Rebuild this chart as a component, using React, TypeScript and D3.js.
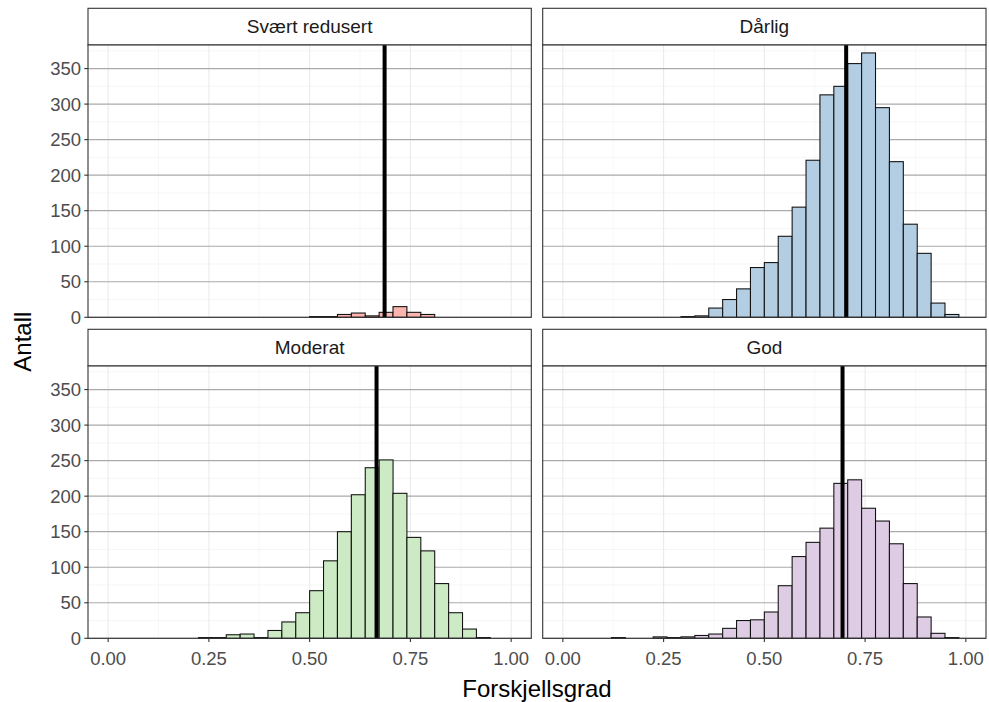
import React from "react";
import * as d3 from "d3";

// bin centres (binwidth = 1/29, ggplot-style 30 bins over 0..1)
const binCenters = [
	0.0, 0.0345, 0.069, 0.1034, 0.1379, 0.1724, 0.2069, 0.2414, 0.2759, 0.3103,
	0.3448, 0.3793, 0.4138, 0.4483, 0.4828, 0.5172, 0.5517, 0.5862, 0.6207, 0.6552,
	0.6897, 0.7241, 0.7586, 0.7931, 0.8276, 0.8621, 0.8966, 0.931, 0.9655, 1.0,
];
const binWidth = 0.0345;

const panelNames = ["Svært redusert", "Dårlig", "Moderat", "God"];
const panelColors = ["#FBB4AE", "#B3CDE3", "#CCEBC5", "#DECBE4"];

const countsSvaert = [0, 0, 0, 0, 0, 0, 0, 0, 0, 0, 0, 0, 0, 0, 0, 1, 1, 4, 6, 2, 7, 15, 7, 4, 0, 0, 0, 0, 0, 0];
const countsDarlig = [0, 0, 0, 0, 0, 0, 0, 0, 0, 1, 2, 13, 25, 40, 70, 77, 114, 155, 221, 313, 325, 357, 372, 295, 219, 131, 90, 20, 4, 0];
const countsModerat = [0, 0, 0, 0, 0, 0, 0, 1, 1, 5, 6, 1, 11, 23, 36, 67, 109, 150, 202, 240, 251, 204, 142, 123, 77, 36, 13, 1, 0, 0];
const countsGod = [0, 0, 0, 0, 1, 0, 0, 2, 1, 2, 4, 6, 14, 25, 26, 37, 74, 115, 135, 155, 218, 223, 183, 165, 133, 77, 30, 7, 1, 0];

const vlineValues = [0.686, 0.703, 0.666, 0.694];

const yTicks = [0, 50, 100, 150, 200, 250, 300, 350];
const yMinor = [25, 75, 125, 175, 225, 275, 325, 375];
const xTicks = [0, 0.25, 0.5, 0.75, 1];
const xTickLabels = ["0.00", "0.25", "0.50", "0.75", "1.00"];
const xMinor = [0.125, 0.375, 0.625, 0.875];

const W = 989;
const H = 702;
const left0 = 88;
const top0 = 8.3;
const panelW = 443.3;
const colGap = 11.4;
const stripH = 36.7;
const panelH = 272.3;
const rowGap = 12;
const font = "'Liberation Sans', Arial, sans-serif";

const allCounts = [countsSvaert, countsDarlig, countsModerat, countsGod];

export default function App() {
	const yMax = (d3.max(allCounts.flat()) || 0) * 1.03;
	const x = d3.scaleLinear().domain([-0.05, 1.05]).range([0, panelW]);
	const y = d3.scaleLinear().domain([0, yMax]).range([panelH, 0]);

	const panels = panelNames.map((name, i) => {
		const col = i % 2;
		const row = Math.floor(i / 2);
		const px = left0 + col * (panelW + colGap);
		const sy = top0 + row * (stripH + panelH + rowGap);
		const py = sy + stripH;
		const counts = allCounts[i];
		return (
			<g key={name}>
				{/* strip */}
				<rect x={px} y={sy} width={panelW} height={stripH} fill="white" stroke="#333333" strokeWidth={1.1} />
				<text x={px + panelW / 2} y={sy + stripH / 2 + 6.8} textAnchor="middle" fontSize={19} fill="#1A1A1A" fontFamily={font}>
					{name}
				</text>
				<g transform={`translate(${px},${py})`}>
					<rect width={panelW} height={panelH} fill="white" />
					{xMinor.map((t) => (
						<line key={"xm" + t} x1={x(t)} x2={x(t)} y1={0} y2={panelH} stroke="#F2F2F2" strokeWidth={0.6} />
					))}
					{yMinor.map((t) => (
						<line key={"ym" + t} x1={0} x2={panelW} y1={y(t)} y2={y(t)} stroke="#EFEFEF" strokeWidth={0.6} />
					))}
					{xTicks.map((t) => (
						<line key={"xg" + t} x1={x(t)} x2={x(t)} y1={0} y2={panelH} stroke="#EBEBEB" strokeWidth={1.1} />
					))}
					{yTicks.map((t) => (
						<line key={"yg" + t} x1={0} x2={panelW} y1={y(t)} y2={y(t)} stroke="#AAAAAA" strokeWidth={1.2} />
					))}
					{counts.map((c, k) =>
						c > 0 ? (
							<rect
								key={"b" + k}
								x={x(binCenters[k] - binWidth / 2)}
								y={y(c)}
								width={x(binWidth) - x(0)}
								height={y(0) - y(c)}
								fill={panelColors[i]}
								stroke="#111111"
								strokeWidth={1.07}
							/>
						) : null
					)}
					<line x1={x(vlineValues[i])} x2={x(vlineValues[i])} y1={0} y2={panelH} stroke="black" strokeWidth={4} />
					<rect width={panelW} height={panelH} fill="none" stroke="#333333" strokeWidth={1.1} />
					{col === 0 &&
						yTicks.map((t) => (
							<g key={"yt" + t}>
								<line x1={-3.7} x2={0} y1={y(t)} y2={y(t)} stroke="#333333" strokeWidth={1.1} />
								<text x={-7} y={y(t) + 6.5} textAnchor="end" fontSize={18.5} fill="#4D4D4D" fontFamily={font}>
									{t}
								</text>
							</g>
						))}
					{row === 1 &&
						xTicks.map((t, j) => (
							<g key={"xt" + t}>
								<line x1={x(t)} x2={x(t)} y1={panelH} y2={panelH + 3.7} stroke="#333333" strokeWidth={1.1} />
								<text x={x(t)} y={panelH + 27} textAnchor="middle" fontSize={18.5} fill="#4D4D4D" fontFamily={font}>
									{xTickLabels[j]}
								</text>
							</g>
						))}
				</g>
			</g>
		);
	});

	const plotBottom = top0 + 2 * (stripH + panelH) + rowGap;
	const yTitleCenter = (top0 + stripH + plotBottom) / 2;

	return (
		<svg width={W} height={H} style={{position: "absolute", left: 0, top: 0, background: "white"}}>
			<rect width={W} height={H} fill="white" />
			{panels}
			<text
				transform={`translate(31,${yTitleCenter}) rotate(-90)`}
				textAnchor="middle"
				fontSize={24}
				fill="black"
				fontFamily={font}
			>
				Antall
			</text>
			<text x={left0 + panelW + colGap / 2} y={697} textAnchor="middle" fontSize={24} fill="black" fontFamily={font}>
				Forskjellsgrad
			</text>
		</svg>
	);
}
